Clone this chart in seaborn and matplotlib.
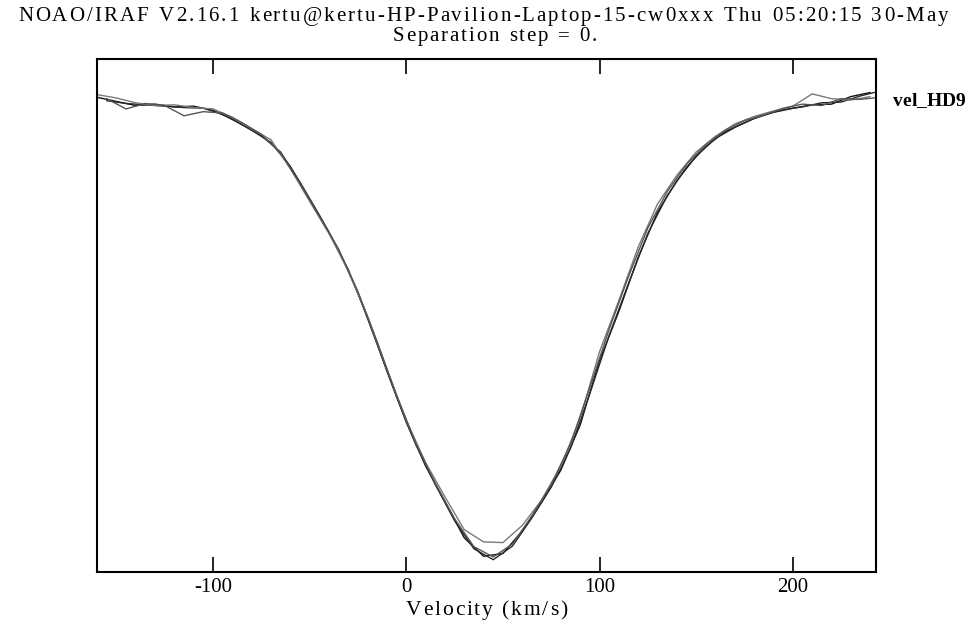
import numpy as np
import pandas as pd
import matplotlib
matplotlib.use("Agg")
import matplotlib.pyplot as plt
from matplotlib.textpath import TextToPath
from matplotlib.font_manager import FontProperties
import seaborn as sns

# velocity grids (km/s) - two sampling grids
vel_a = np.arange(-160, 241, 10)
vel_b = np.arange(-155, 246, 10)

# normalised flux of the overlaid spectra
flux_1 = [0.994, 0.988, 0.982, 0.984, 0.980, 0.981, 0.975, 0.962, 0.946, 0.928,
          0.893, 0.845, 0.797, 0.742, 0.672, 0.594, 0.519, 0.455, 0.403, 0.350,
          0.323, 0.327, 0.360, 0.402, 0.449, 0.515, 0.609, 0.681, 0.760, 0.826,
          0.872, 0.908, 0.934, 0.950, 0.963, 0.972, 0.978, 0.983, 0.984, 0.995,
          1.001]
flux_2 = [0.989, 0.985, 0.983, 0.981, 0.979, 0.978, 0.969, 0.954, 0.938, 0.914,
          0.870, 0.822, 0.771, 0.708, 0.633, 0.556, 0.486, 0.428, 0.375, 0.334,
          0.318, 0.338, 0.379, 0.424, 0.481, 0.561, 0.646, 0.722, 0.795, 0.850,
          0.892, 0.922, 0.944, 0.957, 0.969, 0.976, 0.980, 0.986, 0.987, 0.996,
          1.003]
flux_3 = [0.998, 0.993, 0.986, 0.982, 0.983, 0.979, 0.977, 0.965, 0.948, 0.932,
          0.890, 0.842, 0.795, 0.740, 0.674, 0.597, 0.522, 0.460, 0.410, 0.362,
          0.344, 0.343, 0.368, 0.405, 0.455, 0.525, 0.622, 0.697, 0.775, 0.838,
          0.880, 0.914, 0.937, 0.955, 0.966, 0.974, 0.981, 0.999, 0.992, 0.990,
          0.995]
flux_4 = [0.992, 0.977, 0.985, 0.982, 0.967, 0.973, 0.971, 0.957, 0.940, 0.912,
          0.868, 0.820, 0.772, 0.710, 0.636, 0.558, 0.488, 0.430, 0.378, 0.337,
          0.322, 0.341, 0.382, 0.428, 0.487, 0.570, 0.655, 0.732, 0.803, 0.856,
          0.896, 0.925, 0.946, 0.960, 0.968, 0.978, 0.984, 0.982, 0.992, 0.991,
          0.994]

x_ticks = [-100, 0, 100, 200]
title_1 = "NOAO/IRAF V2.16.1 kertu@kertu-HP-Pavilion-Laptop-15-cw0xxx Thu 05:20:15 30-May"
title_2 = "Separation step = 0."
x_label = "Velocity (km/s)"
spec_label = "vel_HD9"

df = pd.concat([
    pd.DataFrame({"vel": vel_a, "flux": flux_1, "spec": "s1"}),
    pd.DataFrame({"vel": vel_b, "flux": flux_2, "spec": "s2"}),
    pd.DataFrame({"vel": vel_a, "flux": flux_3, "spec": "s3"}),
    pd.DataFrame({"vel": vel_b, "flux": flux_4, "spec": "s4"}),
])

sns.set_theme(style="white")
plt.rcParams["font.family"] = ["Liberation Serif", "DejaVu Serif"]

W, H = 970, 631
fig = plt.figure(figsize=(W / 100, H / 100), dpi=100)
ax = fig.add_axes([0.100, 0.0935, 0.803, 0.813])

t2p = TextToPath()


def spaced_text(s, x_left, x_right, y_center, size, weight="normal"):
    # IRAF-like stroke font: letters spread out to fill a given pixel span
    fp = FontProperties(family="Liberation Serif", size=size, weight=weight)
    widths = []
    for ch in s:
        w, _, _ = t2p.get_text_width_height_descent(ch if ch != " " else "n", fp, ismath=False)
        if ch == " ":
            w *= 0.6
        widths.append(w * 100 / 72)
    track = (x_right - x_left - sum(widths)) / max(len(s) - 1, 1)
    x = x_left
    for ch, w in zip(s, widths):
        if ch != " ":
            fig.text((x + w / 2) / W, 1 - y_center / H, ch, ha="center",
                     va="center_baseline", fontproperties=fp, color="black")
        x += w + track


palette = {"s1": "#111111", "s2": "#2a2a2a", "s3": "#7a7a7a", "s4": "#555555"}
sns.lineplot(data=df, x="vel", y="flux", hue="spec", palette=palette,
             estimator=None, sort=True, linewidth=1.0, legend=False, ax=ax)

ax.set_xlim(-160, 243)
ax.set_ylim(0.30, 1.05)
ax.set_xticks(x_ticks)
ax.set_xticklabels(["-100", "0", "100", "200"], fontsize=15)
ax.set_yticks([])
ax.tick_params(axis="x", direction="in", length=11, width=1.2, top=True,
               bottom=True, pad=4, colors="black")
for sp in ax.spines.values():
    sp.set_color("black")
    sp.set_linewidth(1.5)
ax.set_xlabel("")
ax.set_ylabel("")

spaced_text(title_1, 18, 948, 14, 15)
spaced_text(title_2, 393, 597, 34, 15)
spaced_text(x_label, 406, 567, 608, 15.5)
spaced_text(spec_label, 893, 965, 100, 14, weight="bold")

fig.savefig("out.png", dpi=100)
